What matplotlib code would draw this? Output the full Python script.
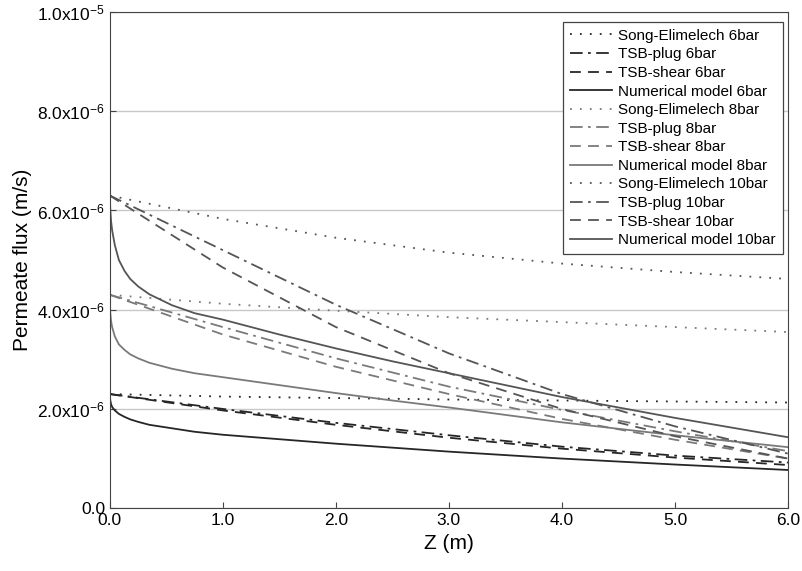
import numpy as np
import matplotlib.pyplot as plt

plt.rcParams['font.family'] = ['Liberation Sans', 'DejaVu Sans']
plt.rcParams['mathtext.default'] = 'regular'

# Axial position (m)
z = [0, 1, 2, 3, 4, 5, 6]
z_num = [0, 0.003, 0.01, 0.02, 0.044, 0.08, 0.13, 0.18, 0.25, 0.35, 0.55,
         0.75, 1, 1.5, 2, 2.5, 3, 4, 5, 6]

# Permeate flux, in 1e-6 m/s
song6 = [2.30, 2.25, 2.22, 2.19, 2.17, 2.15, 2.13]
plug6 = [2.30, 2.00, 1.72, 1.47, 1.24, 1.06, 0.92]
shear6 = [2.30, 1.97, 1.68, 1.42, 1.20, 1.02, 0.87]
num6 = [2.30, 2.18, 2.10, 2.04, 1.97, 1.90, 1.84, 1.79, 1.74, 1.68, 1.61,
        1.54, 1.48, 1.39, 1.30, 1.22, 1.14, 1.00, 0.88, 0.77]

song8 = [4.30, 4.12, 3.98, 3.85, 3.75, 3.65, 3.55]
plug8 = [4.30, 3.65, 3.02, 2.45, 1.98, 1.55, 1.15]
shear8 = [4.30, 3.50, 2.85, 2.30, 1.80, 1.38, 1.00]
num8 = [4.30, 3.95, 3.78, 3.65, 3.46, 3.30, 3.19, 3.10, 3.02, 2.93, 2.81,
        2.72, 2.64, 2.48, 2.32, 2.17, 2.03, 1.73, 1.47, 1.23]

song10 = [6.30, 5.83, 5.45, 5.15, 4.93, 4.76, 4.62]
plug10 = [6.30, 5.20, 4.10, 3.12, 2.30, 1.65, 1.10]
shear10 = [6.30, 4.85, 3.65, 2.72, 2.00, 1.45, 1.00]
num10 = [6.30, 6.05, 5.80, 5.60, 5.30, 5.00, 4.78, 4.62, 4.47, 4.31, 4.09,
         3.93, 3.80, 3.50, 3.22, 2.96, 2.72, 2.24, 1.82, 1.43]

pressures = ['6bar', '8bar', '10bar']
colors = ['#262626', '#7a7a7a', '#555555']
series = [(song6, plug6, shear6, num6),
          (song8, plug8, shear8, num8),
          (song10, plug10, shear10, num10)]

fig = plt.figure(figsize=(8.02, 5.71), dpi=100)
ax = fig.add_axes([0.137, 0.110, 0.8455, 0.869])

for p, c, (s, pl, sh, nm) in zip(pressures, colors, series):
    ax.plot(z, np.array(s) * 1e-6, color=c, lw=1.3, ls=(0, (1, 4.5)),
            label='Song-Elimelech ' + p)
    ax.plot(z, np.array(pl) * 1e-6, color=c, lw=1.3, ls=(0, (7, 3, 1.5, 3)),
            label='TSB-plug ' + p)
    ax.plot(z, np.array(sh) * 1e-6, color=c, lw=1.3, ls=(0, (6, 4)),
            label='TSB-shear ' + p)
    ax.plot(z_num, np.array(nm) * 1e-6, color=c, lw=1.3, ls='-',
            label='Numerical model ' + p)

ax.set_xlim(0, 6)
ax.set_ylim(0, 1e-5)
ax.set_xticks(range(7))
ax.set_xticklabels(['%.1f' % v for v in range(7)])
yt = [0, 2e-6, 4e-6, 6e-6, 8e-6, 1e-5]
ax.set_yticks(yt)
ax.set_yticklabels(['0.0', r'2.0x10$^{-6}$', r'4.0x10$^{-6}$', r'6.0x10$^{-6}$',
                    r'8.0x10$^{-6}$', r'1.0x10$^{-5}$'])
ax.tick_params(direction='in', labelsize=12.5, length=4, color='#444444')
ax.yaxis.grid(True, color='#c8c8c8', lw=1)
ax.set_axisbelow(True)
for sp in ax.spines.values():
    sp.set_color('#444444')

ax.set_xlabel('Z (m)', fontsize=15)
ax.set_ylabel('Permeate flux (m/s)', fontsize=15)

leg = ax.legend(loc='upper right', fontsize=11, fancybox=False,
                edgecolor='#444444', framealpha=1, handlelength=2.8,
                labelspacing=0.3, borderpad=0.45, handletextpad=0.4,
                borderaxespad=0, bbox_to_anchor=(0.9926, 0.98))
leg.get_frame().set_linewidth(0.9)

fig.savefig('out.png', dpi=100)
